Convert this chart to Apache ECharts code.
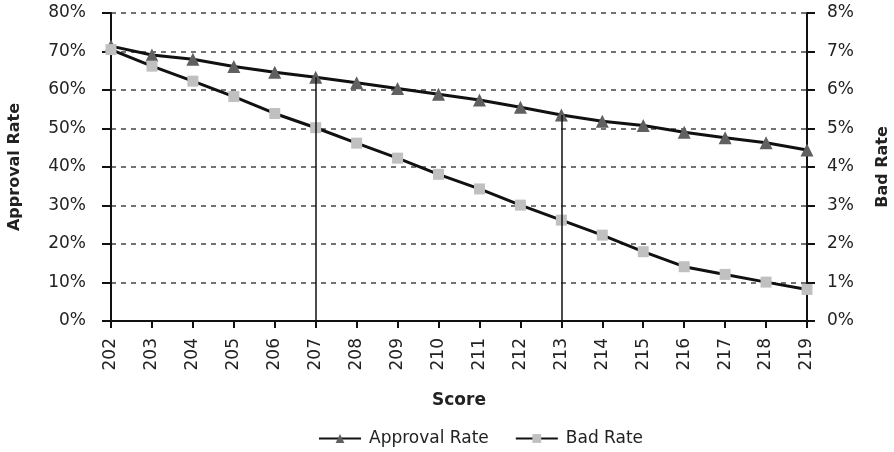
<!DOCTYPE html>
<html>
<head>
<meta charset="utf-8">
<script src="https://cdn.jsdelivr.net/npm/echarts@6/dist/echarts.min.js"></script>
<style>html,body{margin:0;padding:0;background:#fff}#c{width:894px;height:452px}</style>
</head>
<body>
<div id="c"></div>
<script>
const categories = ['202','203','204','205','206','207','208','209','210','211','212','213','214','215','216','217','218','219'];
const approvalRate = [71.4,69.1,68.0,66.1,64.6,63.3,61.9,60.4,58.9,57.4,55.5,53.5,51.9,50.8,49.0,47.6,46.3,44.4];
const badRate = [7.05,6.62,6.23,5.83,5.39,5.02,4.62,4.23,3.81,3.43,3.01,2.62,2.23,1.80,1.41,1.21,1.01,0.82];
const cutoffs = ['207','213'];

const font = '"DejaVu Sans", "Liberation Sans", Arial, sans-serif';
const chart = echarts.init(document.getElementById('c'));
const cutLines = cutoffs.map(c => [
  {coord: [c, 0]},
  {coord: [c, approvalRate[categories.indexOf(c)]]}
]);
chart.setOption({
  animation: false,
  textStyle: {fontFamily: font},
  grid: {left: 111, right: 87, top: 13, bottom: 131, outerBoundsMode: 'none', containLabel: false},
  legend: {
    top: 430, left: 318, padding: 0, itemWidth: 42, itemHeight: 11, itemGap: 26,
    textStyle: {fontFamily: font, fontSize: 17, color: '#222', padding: [0, 0, 0, 3]},
    data: ['Approval Rate', 'Bad Rate']
  },
  xAxis: {
    type: 'category', data: categories, boundaryGap: false,
    name: 'Score', nameLocation: 'middle', nameGap: 71,
    nameTextStyle: {fontFamily: font, fontSize: 17, fontWeight: 'bold', color: '#222'},
    axisLine: {lineStyle: {color: '#111', width: 2}},
    axisTick: {show: true, length: 7, lineStyle: {color: '#111', width: 2}},
    axisLabel: {rotate: 90, fontSize: 17, color: '#222', margin: 17}
  },
  yAxis: [{
    type: 'value', min: 0, max: 80, interval: 10,
    name: 'Approval Rate', nameLocation: 'middle', nameGap: 88,
    nameTextStyle: {fontFamily: font, fontSize: 16, fontWeight: 'bold', color: '#222'},
    axisLine: {show: true, lineStyle: {color: '#111', width: 2}},
    axisTick: {show: true, length: 9, lineStyle: {color: '#111', width: 2}},
    axisLabel: {formatter: '{value}%', fontSize: 17, color: '#222', margin: 25},
    splitLine: {show: true, lineStyle: {color: '#444', type: [5, 5], width: 1.5}}
  }, {
    type: 'value', min: 0, max: 8, interval: 1, position: 'right',
    name: 'Bad Rate', nameLocation: 'middle', nameGap: 68,
    nameTextStyle: {fontFamily: font, fontSize: 16, fontWeight: 'bold', color: '#222'},
    axisLine: {show: true, lineStyle: {color: '#111', width: 2}},
    axisTick: {show: true, length: 8, lineStyle: {color: '#111', width: 2}},
    axisLabel: {formatter: '{value}%', fontSize: 17, color: '#222', margin: 20},
    splitLine: {show: false}
  }],
  series: [{
    name: 'Approval Rate', type: 'line', yAxisIndex: 0, data: approvalRate,
    symbol: 'triangle', symbolSize: 13, showAllSymbol: true,
    lineStyle: {color: '#111', width: 3},
    itemStyle: {color: '#606060', borderWidth: 0},
    z: 3,
    markLine: {
      silent: true, symbol: 'none', label: {show: false},
      lineStyle: {color: '#111', width: 1.5, type: 'solid'},
      data: cutLines
    }
  }, {
    name: 'Bad Rate', type: 'line', yAxisIndex: 1, data: badRate,
    symbol: 'rect', symbolSize: 11, showAllSymbol: true,
    lineStyle: {color: '#111', width: 3},
    itemStyle: {color: '#c0c0c0', borderWidth: 0},
    z: 4
  }]
});
</script>
</body>
</html>
